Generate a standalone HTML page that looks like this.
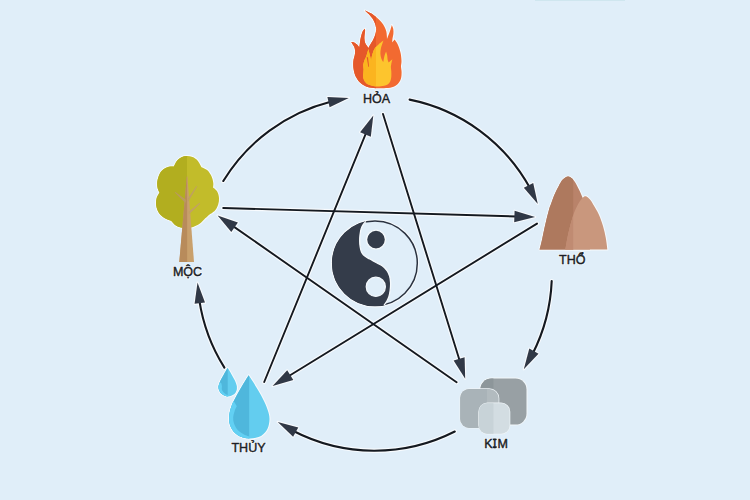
<!DOCTYPE html>
<html><head><meta charset="utf-8"><style>
html,body{margin:0;padding:0;background:#e0eef9;width:750px;height:500px;overflow:hidden}
svg{display:block}
</style></head><body>
<svg width="750" height="500" viewBox="0 0 750 500">
<rect width="750" height="500" fill="#e0eef9"/>
<rect x="535" y="0" width="90" height="1" fill="#cfe6ef"/>
<g opacity="1">
<path d="M223.3,181.0 A177.3,177.3 0 0 1 331.5,101.4" fill="none" stroke="#f8fbfe" stroke-width="4.4" stroke-linecap="round"/>
<polygon points="348.8,97.9 329.6,107.3 327.4,97.1" fill="#f8fbfe" stroke="#f8fbfe" stroke-width="2.2" stroke-linejoin="round"/>
<path d="M409.6,99.6 A177.3,177.3 0 0 1 530.0,188.1" fill="none" stroke="#f8fbfe" stroke-width="4.4" stroke-linecap="round"/>
<polygon points="537.8,203.9 523.8,187.7 533.2,183.0" fill="#f8fbfe" stroke="#f8fbfe" stroke-width="2.2" stroke-linejoin="round"/>
<path d="M551.7,281.1 A177.3,177.3 0 0 1 532.5,354.0" fill="none" stroke="#f8fbfe" stroke-width="4.4" stroke-linecap="round"/>
<polygon points="523.8,369.3 529.3,348.6 538.5,353.8" fill="#f8fbfe" stroke="#f8fbfe" stroke-width="2.2" stroke-linejoin="round"/>
<path d="M454.8,431.5 A177.3,177.3 0 0 1 292.9,430.8" fill="none" stroke="#f8fbfe" stroke-width="4.4" stroke-linecap="round"/>
<polygon points="277.7,421.9 298.3,427.6 293.1,436.7" fill="#f8fbfe" stroke="#f8fbfe" stroke-width="2.2" stroke-linejoin="round"/>
<path d="M224.4,367.6 A177.3,177.3 0 0 1 199.3,300.1" fill="none" stroke="#f8fbfe" stroke-width="4.4" stroke-linecap="round"/>
<polygon points="197.5,282.6 205.0,302.6 194.6,303.8" fill="#f8fbfe" stroke="#f8fbfe" stroke-width="2.2" stroke-linejoin="round"/>
<line x1="383" y1="114" x2="459.7" y2="360.8" stroke="#f8fbfe" stroke-width="4.2" stroke-linecap="round"/>
<polygon points="465.2,378.7 453.6,360.6 464.6,357.2" fill="#f8fbfe" stroke="#f8fbfe" stroke-width="2.2" stroke-linejoin="round"/>
<line x1="456.6" y1="382.2" x2="233.0" y2="226.1" stroke="#f8fbfe" stroke-width="4.2" stroke-linecap="round"/>
<polygon points="217.6,215.4 237.9,222.5 231.3,232.0" fill="#f8fbfe" stroke="#f8fbfe" stroke-width="2.2" stroke-linejoin="round"/>
<line x1="223.2" y1="208" x2="516.4" y2="216.5" stroke="#f8fbfe" stroke-width="4.2" stroke-linecap="round"/>
<polygon points="535.1,217.0 514.2,222.2 514.6,210.7" fill="#f8fbfe" stroke="#f8fbfe" stroke-width="2.2" stroke-linejoin="round"/>
<line x1="537" y1="223.6" x2="288.5" y2="376.2" stroke="#f8fbfe" stroke-width="4.2" stroke-linecap="round"/>
<polygon points="272.6,386.0 287.2,370.2 293.3,380.0" fill="#f8fbfe" stroke="#f8fbfe" stroke-width="2.2" stroke-linejoin="round"/>
<line x1="264.2" y1="382" x2="366.2" y2="132.7" stroke="#f8fbfe" stroke-width="4.2" stroke-linecap="round"/>
<polygon points="373.3,115.4 370.8,136.7 360.1,132.3" fill="#f8fbfe" stroke="#f8fbfe" stroke-width="2.2" stroke-linejoin="round"/>
</g>
<path d="M223.3,181.0 A177.3,177.3 0 0 1 331.5,101.4" fill="none" stroke="#141920" stroke-width="2.1" stroke-linecap="round"/>
<polygon points="348.8,97.9 329.6,107.3 327.4,97.1" fill="#303846"/>
<path d="M409.6,99.6 A177.3,177.3 0 0 1 530.0,188.1" fill="none" stroke="#141920" stroke-width="2.1" stroke-linecap="round"/>
<polygon points="537.8,203.9 523.8,187.7 533.2,183.0" fill="#303846"/>
<path d="M551.7,281.1 A177.3,177.3 0 0 1 532.5,354.0" fill="none" stroke="#141920" stroke-width="2.1" stroke-linecap="round"/>
<polygon points="523.8,369.3 529.3,348.6 538.5,353.8" fill="#303846"/>
<path d="M454.8,431.5 A177.3,177.3 0 0 1 292.9,430.8" fill="none" stroke="#141920" stroke-width="2.1" stroke-linecap="round"/>
<polygon points="277.7,421.9 298.3,427.6 293.1,436.7" fill="#303846"/>
<path d="M224.4,367.6 A177.3,177.3 0 0 1 199.3,300.1" fill="none" stroke="#141920" stroke-width="2.1" stroke-linecap="round"/>
<polygon points="197.5,282.6 205.0,302.6 194.6,303.8" fill="#303846"/>
<line x1="383" y1="114" x2="459.7" y2="360.8" stroke="#141920" stroke-width="1.9" stroke-linecap="round"/>
<polygon points="465.2,378.7 453.6,360.6 464.6,357.2" fill="#303846"/>
<line x1="456.6" y1="382.2" x2="233.0" y2="226.1" stroke="#141920" stroke-width="1.9" stroke-linecap="round"/>
<polygon points="217.6,215.4 237.9,222.5 231.3,232.0" fill="#303846"/>
<line x1="223.2" y1="208" x2="516.4" y2="216.5" stroke="#141920" stroke-width="1.9" stroke-linecap="round"/>
<polygon points="535.1,217.0 514.2,222.2 514.6,210.7" fill="#303846"/>
<line x1="537" y1="223.6" x2="288.5" y2="376.2" stroke="#141920" stroke-width="1.9" stroke-linecap="round"/>
<polygon points="272.6,386.0 287.2,370.2 293.3,380.0" fill="#303846"/>
<line x1="264.2" y1="382" x2="366.2" y2="132.7" stroke="#141920" stroke-width="1.9" stroke-linecap="round"/>
<polygon points="373.3,115.4 370.8,136.7 360.1,132.3" fill="#303846"/>

<g>
<circle cx="375" cy="263.3" r="42.3" fill="none" stroke="#f6fafd" stroke-width="3.6"/>
<circle cx="375" cy="263.3" r="42.3" fill="#e0eef9" stroke="#2a3240" stroke-width="1.5"/>
<path d="M366.00,221.60 C366.00,221.60 364.00,223.43 363.20,224.60 C362.40,225.77 361.73,226.87 361.20,228.60 C360.67,230.33 360.25,232.87 360.00,235.00 C359.75,237.13 359.67,239.40 359.70,241.40 C359.73,243.40 359.90,245.23 360.20,247.00 C360.50,248.77 360.78,250.53 361.50,252.00 C362.22,253.47 363.20,254.67 364.50,255.80 C365.80,256.93 367.45,257.73 369.30,258.80 C371.15,259.87 373.45,261.03 375.60,262.20 C377.75,263.37 380.30,264.42 382.20,265.80 C384.10,267.18 385.77,268.80 387.00,270.50 C388.23,272.20 389.00,273.98 389.60,276.00 C390.20,278.02 390.50,280.27 390.60,282.60 C390.70,284.93 390.50,287.60 390.20,290.00 C389.90,292.40 389.40,295.07 388.80,297.00 C388.20,298.93 387.38,300.25 386.60,301.60 C385.82,302.95 384.10,305.10 384.10,305.10 A43,43 0 0 1 332,263.3 A43,43 0 0 1 366,221.6 Z" fill="#343c4a"/>
<path d="M366.00,221.60 C366.00,221.60 364.00,223.43 363.20,224.60 C362.40,225.77 361.73,226.87 361.20,228.60 C360.67,230.33 360.25,232.87 360.00,235.00 C359.75,237.13 359.67,239.40 359.70,241.40 C359.73,243.40 359.90,245.23 360.20,247.00 C360.50,248.77 360.78,250.53 361.50,252.00 C362.22,253.47 363.20,254.67 364.50,255.80 C365.80,256.93 367.45,257.73 369.30,258.80 C371.15,259.87 373.45,261.03 375.60,262.20 C377.75,263.37 380.30,264.42 382.20,265.80 C384.10,267.18 385.77,268.80 387.00,270.50 C388.23,272.20 389.00,273.98 389.60,276.00 C390.20,278.02 390.50,280.27 390.60,282.60 C390.70,284.93 390.50,287.60 390.20,290.00 C389.90,292.40 389.40,295.07 388.80,297.00 C388.20,298.93 387.38,300.25 386.60,301.60 C385.82,302.95 384.10,305.10 384.10,305.10" fill="none" stroke="#f6fafd" stroke-width="1.3"/>
<circle cx="376" cy="239.6" r="9.5" fill="#343c4a" stroke="#f6fafd" stroke-width="1.4"/>
<circle cx="375.8" cy="286.8" r="9.6" fill="#e0eef9" stroke="#f4f9fd" stroke-width="1.2"/>
</g>

<g>
<clipPath id="fl"><rect x="340" y="0" width="36" height="95"/></clipPath>
<path d="M364.80,10.40 C364.80,10.40 368.97,12.07 371.00,13.30 C373.03,14.53 375.25,16.30 377.00,17.80 C378.75,19.30 380.23,20.77 381.50,22.30 C382.77,23.83 383.80,25.47 384.60,27.00 C385.40,28.53 385.93,30.08 386.30,31.50 C386.67,32.92 386.68,34.25 386.80,35.50 C386.92,36.75 387.00,39.00 387.00,39.00 C387.00,39.00 388.02,36.38 388.60,34.80 C389.18,33.22 389.97,31.13 390.50,29.50 C391.03,27.87 391.80,25.00 391.80,25.00 C391.80,25.00 393.03,27.48 393.30,29.00 C393.57,30.52 393.53,32.52 393.40,34.10 C393.27,35.68 392.70,37.10 392.50,38.50 C392.30,39.90 392.20,42.50 392.20,42.50 C392.20,42.50 394.60,39.60 394.60,39.60 C394.60,39.60 397.10,42.97 398.10,45.20 C399.10,47.43 400.03,50.37 400.60,53.00 C401.17,55.63 401.43,58.75 401.50,61.00 C401.57,63.25 400.98,64.67 401.00,66.50 C401.02,68.33 401.62,69.95 401.60,72.00 C401.58,74.05 401.53,76.80 400.90,78.80 C400.27,80.80 399.28,82.58 397.80,84.00 C396.32,85.42 394.30,86.60 392.00,87.30 C389.70,88.00 386.67,88.05 384.00,88.20 C381.33,88.35 378.75,88.40 376.00,88.20 C373.25,88.00 370.07,87.87 367.50,87.00 C364.93,86.13 362.52,84.67 360.60,83.00 C358.68,81.33 357.13,79.13 356.00,77.00 C354.87,74.87 354.27,72.28 353.80,70.20 C353.33,68.12 353.23,66.28 353.20,64.50 C353.17,62.72 353.33,61.08 353.60,59.50 C353.87,57.92 354.55,56.48 354.80,55.00 C355.05,53.52 355.20,51.97 355.10,50.60 C355.00,49.23 354.62,47.87 354.20,46.80 C353.78,45.73 353.08,45.00 352.60,44.20 C352.12,43.40 351.30,42.00 351.30,42.00 C351.30,42.00 353.25,42.07 354.20,42.50 C355.15,42.93 356.15,43.78 357.00,44.60 C357.85,45.42 359.30,47.40 359.30,47.40 C359.30,47.40 359.62,45.32 359.80,44.00 C359.98,42.68 360.10,41.08 360.40,39.50 C360.70,37.92 361.18,35.92 361.60,34.50 C362.02,33.08 362.35,31.97 362.90,31.00 C363.45,30.03 364.90,28.70 364.90,28.70 C364.90,28.70 365.15,30.03 365.10,31.00 C365.05,31.97 364.72,33.25 364.60,34.50 C364.48,35.75 364.33,37.18 364.40,38.50 C364.47,39.82 364.62,41.22 365.00,42.40 C365.38,43.58 366.13,44.67 366.70,45.60 C367.27,46.53 368.40,48.00 368.40,48.00 C368.40,48.00 369.77,45.45 370.50,44.20 C371.23,42.95 372.12,41.78 372.80,40.50 C373.48,39.22 374.08,37.92 374.60,36.50 C375.12,35.08 375.67,33.50 375.90,32.00 C376.13,30.50 376.18,29.00 376.00,27.50 C375.82,26.00 375.38,24.48 374.80,23.00 C374.22,21.52 373.47,20.07 372.50,18.60 C371.53,17.13 370.28,15.57 369.00,14.20 C367.72,12.83 364.80,10.40 364.80,10.40 Z" fill="none" stroke="#f6fafd" stroke-width="2" stroke-linejoin="round"/>
<path d="M364.80,10.40 C364.80,10.40 368.97,12.07 371.00,13.30 C373.03,14.53 375.25,16.30 377.00,17.80 C378.75,19.30 380.23,20.77 381.50,22.30 C382.77,23.83 383.80,25.47 384.60,27.00 C385.40,28.53 385.93,30.08 386.30,31.50 C386.67,32.92 386.68,34.25 386.80,35.50 C386.92,36.75 387.00,39.00 387.00,39.00 C387.00,39.00 388.02,36.38 388.60,34.80 C389.18,33.22 389.97,31.13 390.50,29.50 C391.03,27.87 391.80,25.00 391.80,25.00 C391.80,25.00 393.03,27.48 393.30,29.00 C393.57,30.52 393.53,32.52 393.40,34.10 C393.27,35.68 392.70,37.10 392.50,38.50 C392.30,39.90 392.20,42.50 392.20,42.50 C392.20,42.50 394.60,39.60 394.60,39.60 C394.60,39.60 397.10,42.97 398.10,45.20 C399.10,47.43 400.03,50.37 400.60,53.00 C401.17,55.63 401.43,58.75 401.50,61.00 C401.57,63.25 400.98,64.67 401.00,66.50 C401.02,68.33 401.62,69.95 401.60,72.00 C401.58,74.05 401.53,76.80 400.90,78.80 C400.27,80.80 399.28,82.58 397.80,84.00 C396.32,85.42 394.30,86.60 392.00,87.30 C389.70,88.00 386.67,88.05 384.00,88.20 C381.33,88.35 378.75,88.40 376.00,88.20 C373.25,88.00 370.07,87.87 367.50,87.00 C364.93,86.13 362.52,84.67 360.60,83.00 C358.68,81.33 357.13,79.13 356.00,77.00 C354.87,74.87 354.27,72.28 353.80,70.20 C353.33,68.12 353.23,66.28 353.20,64.50 C353.17,62.72 353.33,61.08 353.60,59.50 C353.87,57.92 354.55,56.48 354.80,55.00 C355.05,53.52 355.20,51.97 355.10,50.60 C355.00,49.23 354.62,47.87 354.20,46.80 C353.78,45.73 353.08,45.00 352.60,44.20 C352.12,43.40 351.30,42.00 351.30,42.00 C351.30,42.00 353.25,42.07 354.20,42.50 C355.15,42.93 356.15,43.78 357.00,44.60 C357.85,45.42 359.30,47.40 359.30,47.40 C359.30,47.40 359.62,45.32 359.80,44.00 C359.98,42.68 360.10,41.08 360.40,39.50 C360.70,37.92 361.18,35.92 361.60,34.50 C362.02,33.08 362.35,31.97 362.90,31.00 C363.45,30.03 364.90,28.70 364.90,28.70 C364.90,28.70 365.15,30.03 365.10,31.00 C365.05,31.97 364.72,33.25 364.60,34.50 C364.48,35.75 364.33,37.18 364.40,38.50 C364.47,39.82 364.62,41.22 365.00,42.40 C365.38,43.58 366.13,44.67 366.70,45.60 C367.27,46.53 368.40,48.00 368.40,48.00 C368.40,48.00 369.77,45.45 370.50,44.20 C371.23,42.95 372.12,41.78 372.80,40.50 C373.48,39.22 374.08,37.92 374.60,36.50 C375.12,35.08 375.67,33.50 375.90,32.00 C376.13,30.50 376.18,29.00 376.00,27.50 C375.82,26.00 375.38,24.48 374.80,23.00 C374.22,21.52 373.47,20.07 372.50,18.60 C371.53,17.13 370.28,15.57 369.00,14.20 C367.72,12.83 364.80,10.40 364.80,10.40 Z" fill="#f26a31"/>
<path d="M364.80,10.40 C364.80,10.40 368.97,12.07 371.00,13.30 C373.03,14.53 375.25,16.30 377.00,17.80 C378.75,19.30 380.23,20.77 381.50,22.30 C382.77,23.83 383.80,25.47 384.60,27.00 C385.40,28.53 385.93,30.08 386.30,31.50 C386.67,32.92 386.68,34.25 386.80,35.50 C386.92,36.75 387.00,39.00 387.00,39.00 C387.00,39.00 388.02,36.38 388.60,34.80 C389.18,33.22 389.97,31.13 390.50,29.50 C391.03,27.87 391.80,25.00 391.80,25.00 C391.80,25.00 393.03,27.48 393.30,29.00 C393.57,30.52 393.53,32.52 393.40,34.10 C393.27,35.68 392.70,37.10 392.50,38.50 C392.30,39.90 392.20,42.50 392.20,42.50 C392.20,42.50 394.60,39.60 394.60,39.60 C394.60,39.60 397.10,42.97 398.10,45.20 C399.10,47.43 400.03,50.37 400.60,53.00 C401.17,55.63 401.43,58.75 401.50,61.00 C401.57,63.25 400.98,64.67 401.00,66.50 C401.02,68.33 401.62,69.95 401.60,72.00 C401.58,74.05 401.53,76.80 400.90,78.80 C400.27,80.80 399.28,82.58 397.80,84.00 C396.32,85.42 394.30,86.60 392.00,87.30 C389.70,88.00 386.67,88.05 384.00,88.20 C381.33,88.35 378.75,88.40 376.00,88.20 C373.25,88.00 370.07,87.87 367.50,87.00 C364.93,86.13 362.52,84.67 360.60,83.00 C358.68,81.33 357.13,79.13 356.00,77.00 C354.87,74.87 354.27,72.28 353.80,70.20 C353.33,68.12 353.23,66.28 353.20,64.50 C353.17,62.72 353.33,61.08 353.60,59.50 C353.87,57.92 354.55,56.48 354.80,55.00 C355.05,53.52 355.20,51.97 355.10,50.60 C355.00,49.23 354.62,47.87 354.20,46.80 C353.78,45.73 353.08,45.00 352.60,44.20 C352.12,43.40 351.30,42.00 351.30,42.00 C351.30,42.00 353.25,42.07 354.20,42.50 C355.15,42.93 356.15,43.78 357.00,44.60 C357.85,45.42 359.30,47.40 359.30,47.40 C359.30,47.40 359.62,45.32 359.80,44.00 C359.98,42.68 360.10,41.08 360.40,39.50 C360.70,37.92 361.18,35.92 361.60,34.50 C362.02,33.08 362.35,31.97 362.90,31.00 C363.45,30.03 364.90,28.70 364.90,28.70 C364.90,28.70 365.15,30.03 365.10,31.00 C365.05,31.97 364.72,33.25 364.60,34.50 C364.48,35.75 364.33,37.18 364.40,38.50 C364.47,39.82 364.62,41.22 365.00,42.40 C365.38,43.58 366.13,44.67 366.70,45.60 C367.27,46.53 368.40,48.00 368.40,48.00 C368.40,48.00 369.77,45.45 370.50,44.20 C371.23,42.95 372.12,41.78 372.80,40.50 C373.48,39.22 374.08,37.92 374.60,36.50 C375.12,35.08 375.67,33.50 375.90,32.00 C376.13,30.50 376.18,29.00 376.00,27.50 C375.82,26.00 375.38,24.48 374.80,23.00 C374.22,21.52 373.47,20.07 372.50,18.60 C371.53,17.13 370.28,15.57 369.00,14.20 C367.72,12.83 364.80,10.40 364.80,10.40 Z" fill="#e5582a" clip-path="url(#fl)"/>
<path d="M383.50,40.60 C383.50,40.60 382.93,41.90 382.50,43.20 C382.07,44.50 381.25,46.67 380.90,48.40 C380.55,50.13 380.32,51.87 380.40,53.60 C380.48,55.33 380.92,57.40 381.40,58.80 C381.88,60.20 383.30,62.00 383.30,62.00 C383.30,62.00 383.77,59.17 384.00,58.00 C384.23,56.83 384.35,56.08 384.70,55.00 C385.05,53.92 386.10,51.50 386.10,51.50 C386.10,51.50 386.95,54.17 387.20,55.50 C387.45,56.83 387.35,58.33 387.60,59.50 C387.85,60.67 388.70,62.50 388.70,62.50 C388.70,62.50 392.40,59.30 392.40,59.30 C392.40,59.30 391.55,62.68 391.30,64.00 C391.05,65.32 390.90,65.98 390.90,67.20 C390.90,68.42 391.23,69.75 391.30,71.30 C391.37,72.85 391.47,74.85 391.30,76.50 C391.13,78.15 390.98,79.82 390.30,81.20 C389.62,82.58 388.75,83.95 387.20,84.80 C385.65,85.65 383.08,86.05 381.00,86.30 C378.92,86.55 376.80,86.58 374.70,86.30 C372.60,86.02 370.05,85.40 368.40,84.60 C366.75,83.80 365.67,82.67 364.80,81.50 C363.93,80.33 363.45,78.95 363.20,77.60 C362.95,76.25 363.23,74.80 363.30,73.40 C363.37,72.00 363.62,70.58 363.60,69.20 C363.58,67.82 363.10,66.48 363.20,65.10 C363.30,63.72 363.68,62.42 364.20,60.90 C364.72,59.38 365.60,58.00 366.30,56.00 C367.00,54.00 368.40,48.90 368.40,48.90 C368.40,48.90 369.15,52.08 369.50,53.60 C369.85,55.12 370.22,56.77 370.50,58.00 C370.78,59.23 371.20,61.00 371.20,61.00 C371.20,61.00 371.37,58.73 371.60,57.50 C371.83,56.27 372.08,55.12 372.60,53.60 C373.12,52.08 373.67,49.97 374.70,48.40 C375.73,46.83 377.33,45.50 378.80,44.20 C380.27,42.90 383.50,40.60 383.50,40.60 Z" fill="#fdc52d"/>
<path d="M383.50,40.60 C383.50,40.60 382.93,41.90 382.50,43.20 C382.07,44.50 381.25,46.67 380.90,48.40 C380.55,50.13 380.32,51.87 380.40,53.60 C380.48,55.33 380.92,57.40 381.40,58.80 C381.88,60.20 383.30,62.00 383.30,62.00 C383.30,62.00 383.77,59.17 384.00,58.00 C384.23,56.83 384.35,56.08 384.70,55.00 C385.05,53.92 386.10,51.50 386.10,51.50 C386.10,51.50 386.95,54.17 387.20,55.50 C387.45,56.83 387.35,58.33 387.60,59.50 C387.85,60.67 388.70,62.50 388.70,62.50 C388.70,62.50 392.40,59.30 392.40,59.30 C392.40,59.30 391.55,62.68 391.30,64.00 C391.05,65.32 390.90,65.98 390.90,67.20 C390.90,68.42 391.23,69.75 391.30,71.30 C391.37,72.85 391.47,74.85 391.30,76.50 C391.13,78.15 390.98,79.82 390.30,81.20 C389.62,82.58 388.75,83.95 387.20,84.80 C385.65,85.65 383.08,86.05 381.00,86.30 C378.92,86.55 376.80,86.58 374.70,86.30 C372.60,86.02 370.05,85.40 368.40,84.60 C366.75,83.80 365.67,82.67 364.80,81.50 C363.93,80.33 363.45,78.95 363.20,77.60 C362.95,76.25 363.23,74.80 363.30,73.40 C363.37,72.00 363.62,70.58 363.60,69.20 C363.58,67.82 363.10,66.48 363.20,65.10 C363.30,63.72 363.68,62.42 364.20,60.90 C364.72,59.38 365.60,58.00 366.30,56.00 C367.00,54.00 368.40,48.90 368.40,48.90 C368.40,48.90 369.15,52.08 369.50,53.60 C369.85,55.12 370.22,56.77 370.50,58.00 C370.78,59.23 371.20,61.00 371.20,61.00 C371.20,61.00 371.37,58.73 371.60,57.50 C371.83,56.27 372.08,55.12 372.60,53.60 C373.12,52.08 373.67,49.97 374.70,48.40 C375.73,46.83 377.33,45.50 378.80,44.20 C380.27,42.90 383.50,40.60 383.50,40.60 Z" fill="#fbb41f" clip-path="url(#fl)"/>
<path d="M366.7,57.3 L368,57.3 L369.1,66.8 L368.3,66.8 Z" fill="#e5582a"/>
</g>

<g>
<clipPath id="lh"><rect x="140" y="150" width="47.1" height="90"/></clipPath>
<path d="M174.00,166.50 C174.00,166.50 175.75,162.35 177.00,160.80 C178.25,159.25 179.87,157.98 181.50,157.20 C183.13,156.42 184.97,156.13 186.80,156.10 C188.63,156.07 190.72,156.27 192.50,157.00 C194.28,157.73 196.00,158.80 197.50,160.50 C199.00,162.20 201.50,167.20 201.50,167.20 C201.50,167.20 205.72,168.75 207.40,170.30 C209.08,171.85 210.62,174.38 211.60,176.50 C212.58,178.62 213.07,181.15 213.30,183.00 C213.53,184.85 213.00,187.60 213.00,187.60 C213.00,187.60 216.20,189.87 217.20,191.60 C218.20,193.33 218.83,195.87 219.00,198.00 C219.17,200.13 218.87,202.32 218.20,204.40 C217.53,206.48 216.45,208.82 215.00,210.50 C213.55,212.18 209.50,214.50 209.50,214.50 C209.50,214.50 206.25,217.45 204.60,219.00 C202.95,220.55 201.50,222.47 199.60,223.80 C197.70,225.13 195.30,226.27 193.20,227.00 C191.10,227.73 189.03,228.10 187.00,228.20 C184.97,228.30 182.92,228.10 181.00,227.60 C179.08,227.10 177.13,226.33 175.50,225.20 C173.87,224.07 171.20,220.80 171.20,220.80 C171.20,220.80 166.53,219.30 164.50,218.00 C162.47,216.70 160.38,215.08 159.00,213.00 C157.62,210.92 156.60,207.92 156.20,205.50 C155.80,203.08 156.03,200.65 156.60,198.50 C157.17,196.35 159.60,192.60 159.60,192.60 C159.60,192.60 157.98,189.85 157.60,188.00 C157.22,186.15 156.97,183.83 157.30,181.50 C157.63,179.17 158.57,176.03 159.60,174.00 C160.63,171.97 161.97,170.50 163.50,169.30 C165.03,168.10 167.05,167.27 168.80,166.80 C170.55,166.33 174.00,166.50 174.00,166.50 Z" fill="none" stroke="#f6fafd" stroke-width="2" stroke-linejoin="round"/>
<path d="M174.00,166.50 C174.00,166.50 175.75,162.35 177.00,160.80 C178.25,159.25 179.87,157.98 181.50,157.20 C183.13,156.42 184.97,156.13 186.80,156.10 C188.63,156.07 190.72,156.27 192.50,157.00 C194.28,157.73 196.00,158.80 197.50,160.50 C199.00,162.20 201.50,167.20 201.50,167.20 C201.50,167.20 205.72,168.75 207.40,170.30 C209.08,171.85 210.62,174.38 211.60,176.50 C212.58,178.62 213.07,181.15 213.30,183.00 C213.53,184.85 213.00,187.60 213.00,187.60 C213.00,187.60 216.20,189.87 217.20,191.60 C218.20,193.33 218.83,195.87 219.00,198.00 C219.17,200.13 218.87,202.32 218.20,204.40 C217.53,206.48 216.45,208.82 215.00,210.50 C213.55,212.18 209.50,214.50 209.50,214.50 C209.50,214.50 206.25,217.45 204.60,219.00 C202.95,220.55 201.50,222.47 199.60,223.80 C197.70,225.13 195.30,226.27 193.20,227.00 C191.10,227.73 189.03,228.10 187.00,228.20 C184.97,228.30 182.92,228.10 181.00,227.60 C179.08,227.10 177.13,226.33 175.50,225.20 C173.87,224.07 171.20,220.80 171.20,220.80 C171.20,220.80 166.53,219.30 164.50,218.00 C162.47,216.70 160.38,215.08 159.00,213.00 C157.62,210.92 156.60,207.92 156.20,205.50 C155.80,203.08 156.03,200.65 156.60,198.50 C157.17,196.35 159.60,192.60 159.60,192.60 C159.60,192.60 157.98,189.85 157.60,188.00 C157.22,186.15 156.97,183.83 157.30,181.50 C157.63,179.17 158.57,176.03 159.60,174.00 C160.63,171.97 161.97,170.50 163.50,169.30 C165.03,168.10 167.05,167.27 168.80,166.80 C170.55,166.33 174.00,166.50 174.00,166.50 Z" fill="#c2bc2a"/>
<path d="M174.00,166.50 C174.00,166.50 175.75,162.35 177.00,160.80 C178.25,159.25 179.87,157.98 181.50,157.20 C183.13,156.42 184.97,156.13 186.80,156.10 C188.63,156.07 190.72,156.27 192.50,157.00 C194.28,157.73 196.00,158.80 197.50,160.50 C199.00,162.20 201.50,167.20 201.50,167.20 C201.50,167.20 205.72,168.75 207.40,170.30 C209.08,171.85 210.62,174.38 211.60,176.50 C212.58,178.62 213.07,181.15 213.30,183.00 C213.53,184.85 213.00,187.60 213.00,187.60 C213.00,187.60 216.20,189.87 217.20,191.60 C218.20,193.33 218.83,195.87 219.00,198.00 C219.17,200.13 218.87,202.32 218.20,204.40 C217.53,206.48 216.45,208.82 215.00,210.50 C213.55,212.18 209.50,214.50 209.50,214.50 C209.50,214.50 206.25,217.45 204.60,219.00 C202.95,220.55 201.50,222.47 199.60,223.80 C197.70,225.13 195.30,226.27 193.20,227.00 C191.10,227.73 189.03,228.10 187.00,228.20 C184.97,228.30 182.92,228.10 181.00,227.60 C179.08,227.10 177.13,226.33 175.50,225.20 C173.87,224.07 171.20,220.80 171.20,220.80 C171.20,220.80 166.53,219.30 164.50,218.00 C162.47,216.70 160.38,215.08 159.00,213.00 C157.62,210.92 156.60,207.92 156.20,205.50 C155.80,203.08 156.03,200.65 156.60,198.50 C157.17,196.35 159.60,192.60 159.60,192.60 C159.60,192.60 157.98,189.85 157.60,188.00 C157.22,186.15 156.97,183.83 157.30,181.50 C157.63,179.17 158.57,176.03 159.60,174.00 C160.63,171.97 161.97,170.50 163.50,169.30 C165.03,168.10 167.05,167.27 168.80,166.80 C170.55,166.33 174.00,166.50 174.00,166.50 Z" fill="#b2ae1f" clip-path="url(#lh)"/>
<path d="M186.8,176.4 L187.4,176.4 L194,262 L179.3,262 Z" fill="#c9a06c"/>
<path d="M186.8,176.4 L187.1,176.4 L187.1,262 L179.3,262 Z" fill="#b88b5b"/>
<path d="M185.4,203 L174.8,192.4 L175.5,191.9 L186.2,200 Z" fill="#b99a5e"/>
<path d="M187.7,198.8 L196.4,186 L197.1,186.5 L188.1,202 Z" fill="#bfa062"/>
<path d="M188.5,211.8 L199.6,202.8 L200.2,203.5 L188.8,214.6 Z" fill="#c2a066"/>
</g>

<g>
<clipPath id="ml"><rect x="530" y="170" width="43.2" height="85"/></clipPath>
<clipPath id="ml2"><rect x="530" y="170" width="43.2" height="85"/></clipPath>
<path d="M539.60,249.50 C539.60,249.50 540.75,245.48 541.70,241.30 C542.65,237.12 544.12,229.55 545.30,224.40 C546.48,219.25 547.82,213.87 548.80,210.40 C549.78,206.93 550.20,206.33 551.20,203.60 C552.20,200.87 553.53,196.93 554.80,194.00 C556.07,191.07 557.47,188.40 558.80,186.00 C560.13,183.60 561.27,181.20 562.80,179.60 C564.33,178.00 566.40,176.53 568.00,176.40 C569.60,176.27 571.00,177.47 572.40,178.80 C573.80,180.13 575.20,182.40 576.40,184.40 C577.60,186.40 578.58,188.62 579.60,190.80 C580.62,192.98 581.43,195.13 582.50,197.50 C583.57,199.87 584.75,196.33 586.00,205.00 C587.25,213.67 590.00,249.50 590.00,249.50 C590.00,249.50 539.60,249.50 539.60,249.50 Z" fill="none" stroke="#f6fafd" stroke-width="2" stroke-linejoin="round"/>
<path d="M565.40,249.50 C565.40,249.50 567.08,239.25 568.10,234.50 C569.12,229.75 570.37,224.95 571.50,221.00 C572.63,217.05 573.62,213.92 574.90,210.80 C576.18,207.68 577.85,204.52 579.20,202.30 C580.55,200.08 581.87,198.50 583.00,197.50 C584.13,196.50 584.83,195.95 586.00,196.30 C587.17,196.65 588.80,198.25 590.00,199.60 C591.20,200.95 591.75,201.97 593.20,204.40 C594.65,206.83 597.07,210.60 598.70,214.20 C600.33,217.80 601.82,222.03 603.00,226.00 C604.18,229.97 605.07,234.08 605.80,238.00 C606.53,241.92 607.40,249.50 607.40,249.50 C607.40,249.50 565.40,249.50 565.40,249.50 Z" fill="none" stroke="#f6fafd" stroke-width="2" stroke-linejoin="round"/>
<path d="M539.60,249.50 C539.60,249.50 540.75,245.48 541.70,241.30 C542.65,237.12 544.12,229.55 545.30,224.40 C546.48,219.25 547.82,213.87 548.80,210.40 C549.78,206.93 550.20,206.33 551.20,203.60 C552.20,200.87 553.53,196.93 554.80,194.00 C556.07,191.07 557.47,188.40 558.80,186.00 C560.13,183.60 561.27,181.20 562.80,179.60 C564.33,178.00 566.40,176.53 568.00,176.40 C569.60,176.27 571.00,177.47 572.40,178.80 C573.80,180.13 575.20,182.40 576.40,184.40 C577.60,186.40 578.58,188.62 579.60,190.80 C580.62,192.98 581.43,195.13 582.50,197.50 C583.57,199.87 584.75,196.33 586.00,205.00 C587.25,213.67 590.00,249.50 590.00,249.50 C590.00,249.50 539.60,249.50 539.60,249.50 Z" fill="#b9836a"/>
<path d="M539.60,249.50 C539.60,249.50 540.75,245.48 541.70,241.30 C542.65,237.12 544.12,229.55 545.30,224.40 C546.48,219.25 547.82,213.87 548.80,210.40 C549.78,206.93 550.20,206.33 551.20,203.60 C552.20,200.87 553.53,196.93 554.80,194.00 C556.07,191.07 557.47,188.40 558.80,186.00 C560.13,183.60 561.27,181.20 562.80,179.60 C564.33,178.00 566.40,176.53 568.00,176.40 C569.60,176.27 571.00,177.47 572.40,178.80 C573.80,180.13 575.20,182.40 576.40,184.40 C577.60,186.40 578.58,188.62 579.60,190.80 C580.62,192.98 581.43,195.13 582.50,197.50 C583.57,199.87 584.75,196.33 586.00,205.00 C587.25,213.67 590.00,249.50 590.00,249.50 C590.00,249.50 539.60,249.50 539.60,249.50 Z" fill="#ae795e" clip-path="url(#ml)"/>
<path d="M565.40,249.50 C565.40,249.50 567.08,239.25 568.10,234.50 C569.12,229.75 570.37,224.95 571.50,221.00 C572.63,217.05 573.62,213.92 574.90,210.80 C576.18,207.68 577.85,204.52 579.20,202.30 C580.55,200.08 581.87,198.50 583.00,197.50 C584.13,196.50 584.83,195.95 586.00,196.30 C587.17,196.65 588.80,198.25 590.00,199.60 C591.20,200.95 591.75,201.97 593.20,204.40 C594.65,206.83 597.07,210.60 598.70,214.20 C600.33,217.80 601.82,222.03 603.00,226.00 C604.18,229.97 605.07,234.08 605.80,238.00 C606.53,241.92 607.40,249.50 607.40,249.50 C607.40,249.50 565.40,249.50 565.40,249.50 Z" fill="#c9977d"/>
<path d="M565.40,249.50 C565.40,249.50 567.08,239.25 568.10,234.50 C569.12,229.75 570.37,224.95 571.50,221.00 C572.63,217.05 573.62,213.92 574.90,210.80 C576.18,207.68 577.85,204.52 579.20,202.30 C580.55,200.08 581.87,198.50 583.00,197.50 C584.13,196.50 584.83,195.95 586.00,196.30 C587.17,196.65 588.80,198.25 590.00,199.60 C591.20,200.95 591.75,201.97 593.20,204.40 C594.65,206.83 597.07,210.60 598.70,214.20 C600.33,217.80 601.82,222.03 603.00,226.00 C604.18,229.97 605.07,234.08 605.80,238.00 C606.53,241.92 607.40,249.50 607.40,249.50 C607.40,249.50 565.40,249.50 565.40,249.50 Z" fill="#c08b72" clip-path="url(#ml2)"/>
</g>

<g>
<clipPath id="kl1"><rect x="470" y="370" width="23.4" height="70"/></clipPath>
<rect x="480.4" y="378.5" width="46.1" height="46.1" rx="11" fill="none" stroke="#f2f7fa" stroke-width="2"/><rect x="480.4" y="378.5" width="46.10000000000002" height="46.10000000000002" rx="11" fill="#98a0a4"/>
<g clip-path="url(#kl1)"><rect x="480.4" y="378.5" width="46.10000000000002" height="46.10000000000002" rx="11" fill="#8d969a"/></g>
<rect x="460.2" y="388.9" width="38.4" height="39" rx="9.5" fill="none" stroke="#eef4f7" stroke-width="1.4"/><rect x="460.2" y="388.9" width="38.400000000000034" height="39.0" rx="9.5" fill="#b2bbbf"/>
<clipPath id="kl2"><rect x="450" y="370" width="36.9" height="70"/></clipPath>
<g clip-path="url(#kl2)"><rect x="460.2" y="388.9" width="38.400000000000034" height="39.0" rx="9" fill="#a9b3b8"/></g>
<rect x="479" y="403.2" width="30.6" height="30.5" rx="8.5" fill="none" stroke="#eef4f7" stroke-width="1.4"/><rect x="479" y="403.2" width="30.600000000000023" height="30.5" rx="8.5" fill="#d3dde2"/>
<g clip-path="url(#kl1)"><rect x="479" y="403.2" width="30.600000000000023" height="30.5" rx="8" fill="#c8d3d8"/></g>
</g>

<g>
<clipPath id="wl"><rect x="200" y="360" width="27.7" height="40"/></clipPath>
<clipPath id="wl2"><rect x="220" y="370" width="29.2" height="80"/></clipPath>
<path d="M227.70,368.00 C227.70,368.00 229.00,369.98 229.60,371.00 C230.20,372.02 230.42,372.50 231.30,374.10 C232.18,375.70 234.00,378.68 234.90,380.60 C235.80,382.52 236.37,384.37 236.70,385.60 C237.03,386.83 236.90,387.28 236.90,388.00 C236.90,388.72 237.03,388.98 236.70,389.90 C236.37,390.82 235.80,392.53 234.90,393.50 C234.00,394.47 232.45,395.22 231.30,395.70 C230.15,396.18 229.08,396.40 228.00,396.40 C226.92,396.40 225.93,396.18 224.80,395.70 C223.67,395.22 222.17,394.47 221.20,393.50 C220.23,392.53 219.45,390.90 219.00,389.90 C218.55,388.90 218.55,388.22 218.50,387.50 C218.45,386.78 218.37,386.75 218.70,385.60 C219.03,384.45 219.60,382.52 220.50,380.60 C221.40,378.68 223.22,375.70 224.10,374.10 C224.98,372.50 225.20,372.02 225.80,371.00 C226.40,369.98 227.70,368.00 227.70,368.00 Z" fill="none" stroke="#f6fafd" stroke-width="2" stroke-linejoin="round"/>
<path d="M248.70,375.20 C248.70,375.20 251.23,379.00 252.50,381.00 C253.77,383.00 255.12,385.23 256.30,387.20 C257.48,389.17 258.53,390.93 259.60,392.80 C260.67,394.67 261.73,396.53 262.70,398.40 C263.67,400.27 264.60,402.15 265.40,404.00 C266.20,405.85 266.90,407.75 267.50,409.50 C268.10,411.25 268.67,412.90 269.00,414.50 C269.33,416.10 269.50,417.52 269.50,419.10 C269.50,420.68 269.33,422.40 269.00,424.00 C268.67,425.60 268.17,427.28 267.50,428.70 C266.83,430.12 266.07,431.30 265.00,432.50 C263.93,433.70 262.63,435.02 261.10,435.90 C259.57,436.78 257.73,437.38 255.80,437.80 C253.87,438.22 251.63,438.45 249.50,438.40 C247.37,438.35 245.00,438.07 243.00,437.50 C241.00,436.93 239.08,436.00 237.50,435.00 C235.92,434.00 234.62,432.83 233.50,431.50 C232.38,430.17 231.50,428.58 230.80,427.00 C230.10,425.42 229.58,423.58 229.30,422.00 C229.02,420.42 229.02,419.17 229.10,417.50 C229.18,415.83 229.45,413.75 229.80,412.00 C230.15,410.25 230.58,408.75 231.20,407.00 C231.82,405.25 232.62,403.37 233.50,401.50 C234.38,399.63 235.42,397.80 236.50,395.80 C237.58,393.80 238.67,391.80 240.00,389.50 C241.33,387.20 243.05,384.38 244.50,382.00 C245.95,379.62 248.70,375.20 248.70,375.20 Z" fill="none" stroke="#f6fafd" stroke-width="2" stroke-linejoin="round"/>
<path d="M227.70,368.00 C227.70,368.00 229.00,369.98 229.60,371.00 C230.20,372.02 230.42,372.50 231.30,374.10 C232.18,375.70 234.00,378.68 234.90,380.60 C235.80,382.52 236.37,384.37 236.70,385.60 C237.03,386.83 236.90,387.28 236.90,388.00 C236.90,388.72 237.03,388.98 236.70,389.90 C236.37,390.82 235.80,392.53 234.90,393.50 C234.00,394.47 232.45,395.22 231.30,395.70 C230.15,396.18 229.08,396.40 228.00,396.40 C226.92,396.40 225.93,396.18 224.80,395.70 C223.67,395.22 222.17,394.47 221.20,393.50 C220.23,392.53 219.45,390.90 219.00,389.90 C218.55,388.90 218.55,388.22 218.50,387.50 C218.45,386.78 218.37,386.75 218.70,385.60 C219.03,384.45 219.60,382.52 220.50,380.60 C221.40,378.68 223.22,375.70 224.10,374.10 C224.98,372.50 225.20,372.02 225.80,371.00 C226.40,369.98 227.70,368.00 227.70,368.00 Z" fill="#63cdef"/>
<path d="M227.70,368.00 C227.70,368.00 229.00,369.98 229.60,371.00 C230.20,372.02 230.42,372.50 231.30,374.10 C232.18,375.70 234.00,378.68 234.90,380.60 C235.80,382.52 236.37,384.37 236.70,385.60 C237.03,386.83 236.90,387.28 236.90,388.00 C236.90,388.72 237.03,388.98 236.70,389.90 C236.37,390.82 235.80,392.53 234.90,393.50 C234.00,394.47 232.45,395.22 231.30,395.70 C230.15,396.18 229.08,396.40 228.00,396.40 C226.92,396.40 225.93,396.18 224.80,395.70 C223.67,395.22 222.17,394.47 221.20,393.50 C220.23,392.53 219.45,390.90 219.00,389.90 C218.55,388.90 218.55,388.22 218.50,387.50 C218.45,386.78 218.37,386.75 218.70,385.60 C219.03,384.45 219.60,382.52 220.50,380.60 C221.40,378.68 223.22,375.70 224.10,374.10 C224.98,372.50 225.20,372.02 225.80,371.00 C226.40,369.98 227.70,368.00 227.70,368.00 Z" fill="#4fb7dc" clip-path="url(#wl)"/>
<path d="M221.20,383.00 C221.20,383.00 221.77,384.83 221.90,386.00 C222.03,387.17 221.52,388.75 222.00,390.00 C222.48,391.25 223.80,392.63 224.80,393.50 C225.80,394.37 228.00,395.20 228.00,395.20 C228.00,395.20 228.00,396.40 228.00,396.40 C228.00,396.40 225.93,396.18 224.80,395.70 C223.67,395.22 222.17,394.47 221.20,393.50 C220.23,392.53 219.45,390.90 219.00,389.90 C218.55,388.90 218.55,388.22 218.50,387.50 C218.45,386.78 218.53,386.35 218.70,385.60 C218.87,384.85 219.08,383.43 219.50,383.00 C219.92,382.57 221.20,383.00 221.20,383.00 Z" fill="#62d0f3"/>
<path d="M248.70,375.20 C248.70,375.20 251.23,379.00 252.50,381.00 C253.77,383.00 255.12,385.23 256.30,387.20 C257.48,389.17 258.53,390.93 259.60,392.80 C260.67,394.67 261.73,396.53 262.70,398.40 C263.67,400.27 264.60,402.15 265.40,404.00 C266.20,405.85 266.90,407.75 267.50,409.50 C268.10,411.25 268.67,412.90 269.00,414.50 C269.33,416.10 269.50,417.52 269.50,419.10 C269.50,420.68 269.33,422.40 269.00,424.00 C268.67,425.60 268.17,427.28 267.50,428.70 C266.83,430.12 266.07,431.30 265.00,432.50 C263.93,433.70 262.63,435.02 261.10,435.90 C259.57,436.78 257.73,437.38 255.80,437.80 C253.87,438.22 251.63,438.45 249.50,438.40 C247.37,438.35 245.00,438.07 243.00,437.50 C241.00,436.93 239.08,436.00 237.50,435.00 C235.92,434.00 234.62,432.83 233.50,431.50 C232.38,430.17 231.50,428.58 230.80,427.00 C230.10,425.42 229.58,423.58 229.30,422.00 C229.02,420.42 229.02,419.17 229.10,417.50 C229.18,415.83 229.45,413.75 229.80,412.00 C230.15,410.25 230.58,408.75 231.20,407.00 C231.82,405.25 232.62,403.37 233.50,401.50 C234.38,399.63 235.42,397.80 236.50,395.80 C237.58,393.80 238.67,391.80 240.00,389.50 C241.33,387.20 243.05,384.38 244.50,382.00 C245.95,379.62 248.70,375.20 248.70,375.20 Z" fill="#63cdef"/>
<path d="M248.70,375.20 C248.70,375.20 251.23,379.00 252.50,381.00 C253.77,383.00 255.12,385.23 256.30,387.20 C257.48,389.17 258.53,390.93 259.60,392.80 C260.67,394.67 261.73,396.53 262.70,398.40 C263.67,400.27 264.60,402.15 265.40,404.00 C266.20,405.85 266.90,407.75 267.50,409.50 C268.10,411.25 268.67,412.90 269.00,414.50 C269.33,416.10 269.50,417.52 269.50,419.10 C269.50,420.68 269.33,422.40 269.00,424.00 C268.67,425.60 268.17,427.28 267.50,428.70 C266.83,430.12 266.07,431.30 265.00,432.50 C263.93,433.70 262.63,435.02 261.10,435.90 C259.57,436.78 257.73,437.38 255.80,437.80 C253.87,438.22 251.63,438.45 249.50,438.40 C247.37,438.35 245.00,438.07 243.00,437.50 C241.00,436.93 239.08,436.00 237.50,435.00 C235.92,434.00 234.62,432.83 233.50,431.50 C232.38,430.17 231.50,428.58 230.80,427.00 C230.10,425.42 229.58,423.58 229.30,422.00 C229.02,420.42 229.02,419.17 229.10,417.50 C229.18,415.83 229.45,413.75 229.80,412.00 C230.15,410.25 230.58,408.75 231.20,407.00 C231.82,405.25 232.62,403.37 233.50,401.50 C234.38,399.63 235.42,397.80 236.50,395.80 C237.58,393.80 238.67,391.80 240.00,389.50 C241.33,387.20 243.05,384.38 244.50,382.00 C245.95,379.62 248.70,375.20 248.70,375.20 Z" fill="#4fb7dc" clip-path="url(#wl2)"/>
<path d="M236.80,406.30 C236.80,406.30 235.20,409.33 234.60,411.20 C234.00,413.07 233.28,415.40 233.20,417.50 C233.12,419.60 233.35,421.70 234.10,423.80 C234.85,425.90 236.05,428.30 237.70,430.10 C239.35,431.90 242.05,433.52 244.00,434.60 C245.95,435.68 249.40,436.60 249.40,436.60 C249.40,436.60 249.40,438.40 249.40,438.40 C249.40,438.40 244.98,438.07 243.00,437.50 C241.02,436.93 239.08,436.00 237.50,435.00 C235.92,434.00 234.62,432.83 233.50,431.50 C232.38,430.17 231.50,428.58 230.80,427.00 C230.10,425.42 229.58,423.58 229.30,422.00 C229.02,420.42 229.02,419.17 229.10,417.50 C229.18,415.83 229.45,413.75 229.80,412.00 C230.15,410.25 230.58,408.75 231.20,407.00 C231.82,405.25 232.57,401.62 233.50,401.50 C234.43,401.38 236.80,406.30 236.80,406.30 Z" fill="#62d0f3"/>
</g>

<g font-family="Liberation Sans, sans-serif" font-size="12.5" fill="#f8fbfe" stroke="#f8fbfe" stroke-width="2.2" stroke-linejoin="round" text-anchor="middle" opacity="0.8">
<text x="376.6" y="103">HỎA</text>
<text x="572.3" y="264.2">THỔ</text>
<text x="484.2" y="448" text-anchor="start">K</text><text x="494.7" y="448">I</text><text x="507.9" y="448" text-anchor="end">M</text>
<rect x="493" y="438.9" width="3.4" height="1.1"/><rect x="493" y="446.7" width="3.4" height="1.2"/>
<text x="248.5" y="451.7">THỦY</text>
<text x="187.5" y="276.3">MỘC</text>
</g>
<g font-family="Liberation Sans, sans-serif" font-size="12.5" fill="#1b1f27" stroke="#1b1f27" stroke-width="0.45" text-anchor="middle">
<text x="376.6" y="103">HỎA</text>
<text x="572.3" y="264.2">THỔ</text>
<text x="484.2" y="448" text-anchor="start">K</text><text x="494.7" y="448">I</text><text x="507.9" y="448" text-anchor="end">M</text>
<rect x="493" y="438.9" width="3.4" height="1.1"/><rect x="493" y="446.7" width="3.4" height="1.2"/>
<text x="248.5" y="451.7">THỦY</text>
<text x="187.5" y="276.3">MỘC</text>
</g>
</svg>
</body></html>
